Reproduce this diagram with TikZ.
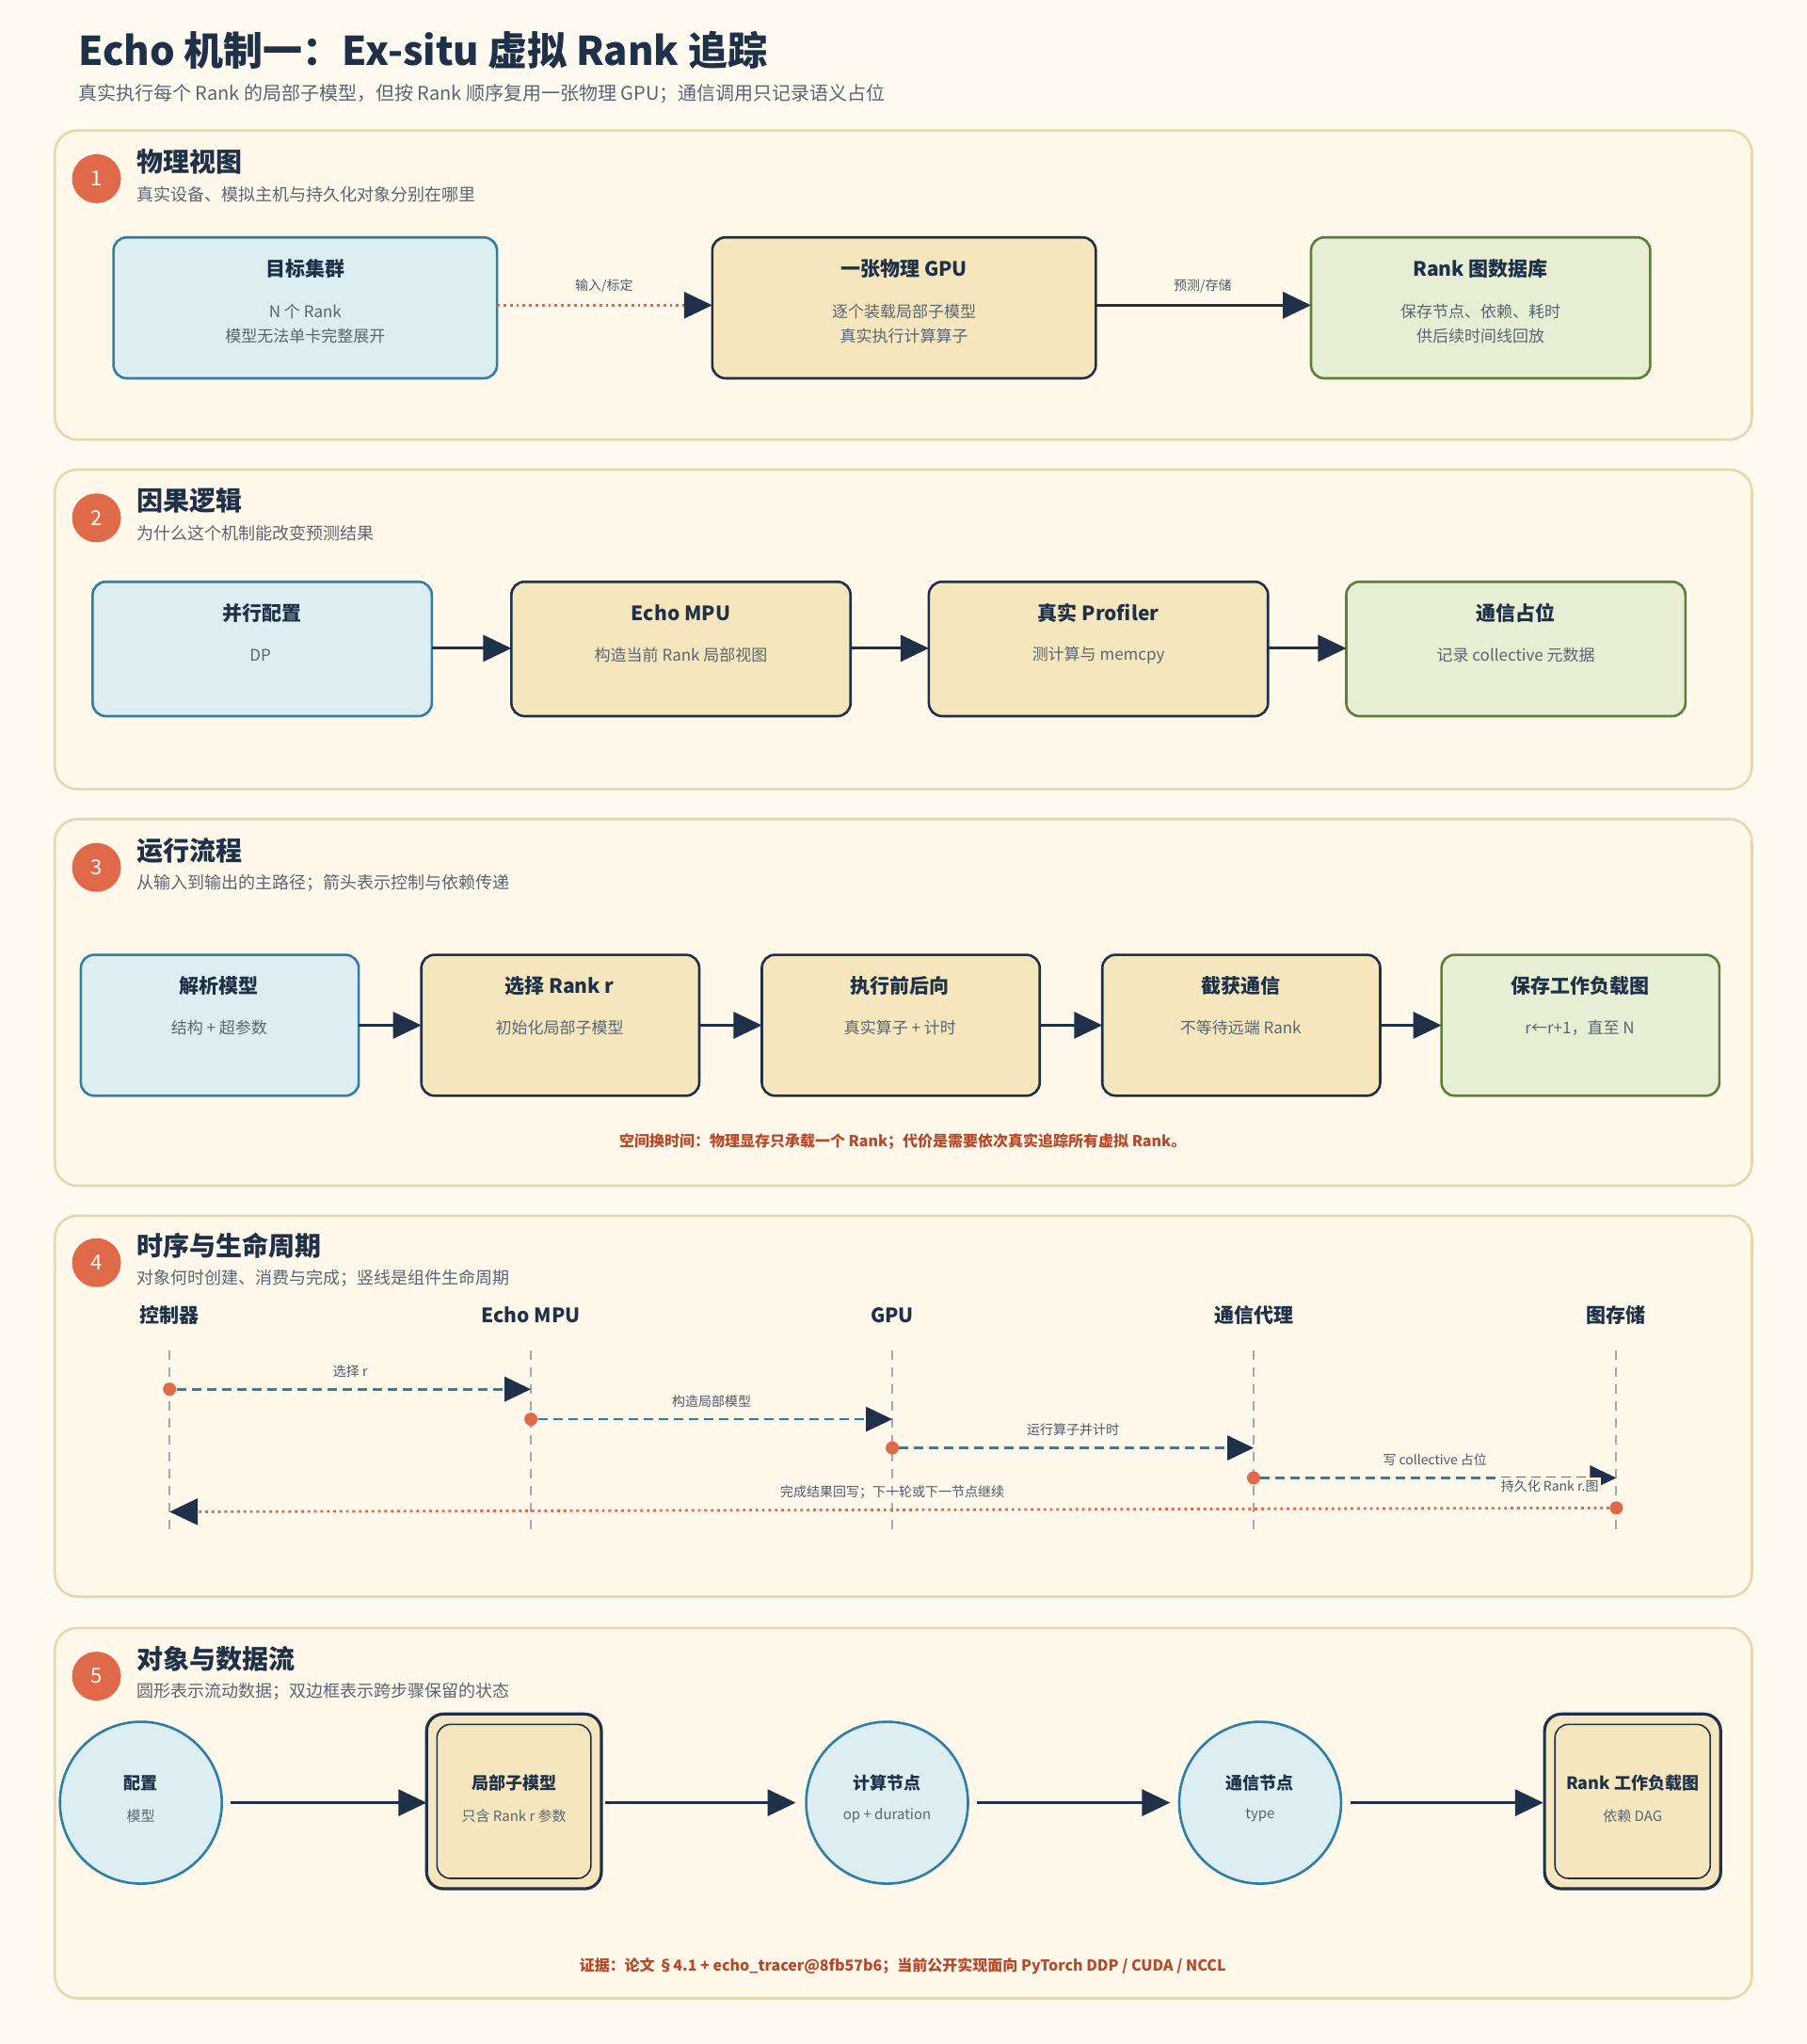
\documentclass[tikz,border=0pt]{standalone}
\usepackage{fontspec}
\setmainfont{Noto Sans CJK SC}
\usetikzlibrary{arrows.meta}
\definecolor{bg}{HTML}{FFFAF0}
\definecolor{pfill}{HTML}{FFF8EB}
\definecolor{pdraw}{HTML}{EBD5AC}
\definecolor{bfill}{HTML}{DCEEF1}
\definecolor{bdraw}{HTML}{2E7EA6}
\definecolor{tfill}{HTML}{F5E6BE}
\definecolor{dark}{HTML}{1E3148}
\definecolor{gfill}{HTML}{E6EFD3}
\definecolor{gdraw}{HTML}{5B7F3B}
\definecolor{orng}{HTML}{E0694A}
\definecolor{gtext}{HTML}{5A6572}
\definecolor{rtext}{HTML}{B6492A}
\definecolor{lgray}{HTML}{A0A8B0}
\begin{document}
\begin{tikzpicture}[x=0.6931pt,y=-0.6931pt,
 panel/.style={draw=pdraw,fill=pfill,line width=1.3pt,rounded corners=12pt},
 num/.style={circle,fill=orng,minimum size=26pt,inner sep=0pt,text=white,font=\fontsize{11}{12}\selectfont},
 head/.style={anchor=west,text=dark,font=\bfseries\fontsize{14}{16}\selectfont},
 sub/.style={anchor=west,text=gtext,font=\fontsize{9}{10}\selectfont},
 bx/.style={rounded corners=7pt,line width=1.3pt},
 blue/.style={bx,draw=bdraw,fill=bfill},
 tan/.style={bx,draw=dark,fill=tfill},
 green/.style={bx,draw=gdraw,fill=gfill},
 bt/.style={text=dark,font=\bfseries\fontsize{10.5}{12}\selectfont},
 bs/.style={text=gtext,font=\fontsize{8.5}{13}\selectfont,align=center},
 sm/.style={text=dark!80,font=\fontsize{7}{8}\selectfont},
 arr/.style={draw=dark,line width=1.6pt,-{Triangle[length=15pt,width=14pt]}},
 darr/.style={draw=orng,line width=1.4pt,dotted,-{Triangle[length=15pt,width=14pt,color=dark]}},
 msg/.style={draw=bdraw,line width=1.4pt,dash pattern=on 5pt off 3pt,-{Triangle[length=14pt,width=13pt,color=dark]}},
 dot/.style={circle,fill=orng,inner sep=0pt,minimum size=7pt},
 life/.style={draw=lgray,line width=0.9pt,dash pattern=on 5pt off 4pt},
 note/.style={text=rtext,font=\bfseries\fontsize{8}{9}\selectfont}]
\fill[bg] (0,0) rectangle (1385,1567);
\node[anchor=base west,text=dark,font=\bfseries\fontsize{21}{24}\selectfont] (title) at (55,50) {Echo 机制一：Ex-situ 虚拟 Rank 追踪};
\node[anchor=base west,text=gtext,font=\fontsize{10}{12}\selectfont] (subtitle) at (55,77) {真实执行每个 Rank 的局部子模型，但按 Rank 顺序复用一张物理 GPU；通信调用只记录语义占位};
% panels
\draw[panel] (42,100) rectangle (1343,337);
\draw[panel] (42,360) rectangle (1343,605);
\draw[panel] (42,628) rectangle (1343,909);
\draw[panel] (42,932) rectangle (1343,1224);
\draw[panel] (42,1248) rectangle (1343,1532);
\foreach \n/\y/\h/\s in {1/137/物理视图/真实设备、模拟主机与持久化对象分别在哪里,
 2/397/因果逻辑/为什么这个机制能改变预测结果,
 3/665/运行流程/从输入到输出的主路径；箭头表示控制与依赖传递,
 4/968/时序与生命周期/对象何时创建、消费与完成；竖线是组件生命周期,
 5/1285/对象与数据流/圆形表示流动数据；双边框表示跨步骤保留的状态}{
 \node[num] (n\n) at (74,\y) {\n};
 \node[head] (h\n) at (100,\y-13) {\h};
 \node[sub] (s\n) at (100,\y+12) {\s};
}
% section 1
\draw[blue] (87,182) rectangle (381,290);
\draw[tan] (546,182) rectangle (840,290);
\draw[green] (1005,182) rectangle (1265,290);
\node[bt] at (234,206) {目标集群};
\node[bs] at (234,248) {N 个 Rank\\模型无法单卡完整展开};
\node[bt] at (693,206) {一张物理 GPU};
\node[bs] at (693,248) {逐个装载局部子模型\\真实执行计算算子};
\node[bt] at (1135,206) {Rank 图数据库};
\node[bs] at (1135,248) {保存节点、依赖、耗时\\供后续时间线回放};
\coordinate (a1) at (381,234); \coordinate (b1) at (546,234);
\coordinate (b2) at (840,234); \coordinate (c1) at (1005,234);
\draw[darr] (a1) -- (b1);
\draw[arr] (b2) -- (c1);
\node[sm] at (463,219) {输入/标定};
\node[sm] at (922,219) {预测/存储};
% section 2
\foreach \i/\x/\st/\t/\s in {1/71/blue/并行配置/DP / TP / PP 分组, 2/392/tan/Echo MPU/构造当前 Rank 局部视图, 3/712/tan/真实 Profiler/测计算与 memcpy, 4/1032/green/通信占位/记录 collective 元数据}{
 \draw[\st] (\x,446) rectangle (\x+260,549);
 \node[bt] at (\x+130,470) {\t};
 \node[bs] at (\x+130,502) {\s};
 \coordinate (L\i) at (\x,497); \coordinate (R\i) at (\x+260,497);
}
\draw[arr] (R1) -- (L2); \draw[arr] (R2) -- (L3); \draw[arr] (R3) -- (L4);
% section 3
\foreach \i/\x/\st/\t/\s in {1/62/blue/解析模型/结构 + 超参数, 2/323/tan/选择 Rank r/初始化局部子模型, 3/584/tan/执行前后向/真实算子 + 计时, 4/845/tan/截获通信/不等待远端 Rank, 5/1105/green/保存工作负载图/r←r+1，直至 N}{
 \draw[\st] (\x,732) rectangle (\x+213,840);
 \node[bt] at (\x+106,756) {\t};
 \node[bs] at (\x+106,788) {\s};
 \coordinate (P\i) at (\x,786); \coordinate (Q\i) at (\x+213,786);
}
\draw[arr] (Q1) -- (P2); \draw[arr] (Q2) -- (P3); \draw[arr] (Q3) -- (P4); \draw[arr] (Q4) -- (P5);
\node[note] at (692,875) {空间换时间：物理显存只承载一个 Rank；代价是需要依次真实追踪所有虚拟 Rank。};
% section 4
\foreach \i/\x/\t in {1/130/控制器, 2/407/Echo MPU, 3/684/GPU, 4/961/通信代理, 5/1239/图存储}{
 \node[text=dark,font=\bfseries\fontsize{10.5}{12}\selectfont] (ll\i) at (\x,1008) {\t};
 \draw[life] (\x,1035) -- (\x,1172);
}
\foreach \i/\a/\b/\y/\t in {1/130/407/1065/选择 r, 2/407/684/1088/构造局部模型, 3/684/961/1110/运行算子并计时, 4/961/1239/1133/写 collective 占位}{
 \node[dot] (m\i) at (\a,\y) {};
 \coordinate (e\i) at (\b,\y);
 \draw[msg] (m\i) -- (e\i);
 \node[sm] at ({(\a+\b)/2},\y-14) {\t};
}
\node[sm,fill=pfill,inner sep=1pt] at (1188,1139) {持久化 Rank r.图};
\node[dot] (rt) at (1239,1156) {};
\coordinate (rt2) at (130,1159);
\draw[darr] (rt) -- (rt2);
\node[sm] at (684,1144) {完成结果回写；下一轮或下一节点继续};
% section 5
\foreach \i/\x/\t/\s in {1/108/配置/模型/并行/硬件, 3/680/计算节点/op + duration, 4/966/通信节点/type/group/bytes}{
 \node[circle,draw=bdraw,fill=bfill,line width=1.3pt,minimum size=86pt] (c\i) at (\x,1382) {};
 \node[bt,font=\bfseries\fontsize{9}{10}\selectfont] at (\x,1367) {\t};
 \node[bs,font=\fontsize{7.5}{9}\selectfont] at (\x,1392) {\s};
}
\foreach \i/\a/\b/\t/\s in {2/327/461/局部子模型/只含 Rank r 参数, 5/1184/1319/Rank 工作负载图/依赖 DAG}{
 \draw[tan,rounded corners=9pt,line width=1.6pt] (\a,1314) rectangle (\b,1448);
 \draw[dark,rounded corners=7pt,line width=0.8pt] (\a+8,1322) rectangle (\b-8,1440);
 \node[bt,font=\bfseries\fontsize{9}{10}\selectfont] at ({(\a+\b)/2},1367) {\t};
 \node[bs,font=\fontsize{7.5}{9}\selectfont] at ({(\a+\b)/2},1392) {\s};
 \coordinate (d\i) at (\a,1382); \coordinate (f\i) at (\b,1382);
}
\coordinate (x1) at (177,1382); \coordinate (x2) at (464,1382);
\coordinate (x3) at (610,1382); \coordinate (x4) at (749,1382);
\coordinate (x5) at (897,1382); \coordinate (x6) at (1035,1382);
\coordinate (x7) at (1183,1382);
\draw[arr] (x1) -- (d2); \draw[arr] (x2) -- (x3); \draw[arr] (x4) -- (x5); \draw[arr] (x6) -- (x7);
\node[note] at (692,1507) {证据：论文 §4.1 + echo\_tracer@8fb57b6；当前公开实现面向 PyTorch DDP / CUDA / NCCL};
\end{tikzpicture}
\end{document}
